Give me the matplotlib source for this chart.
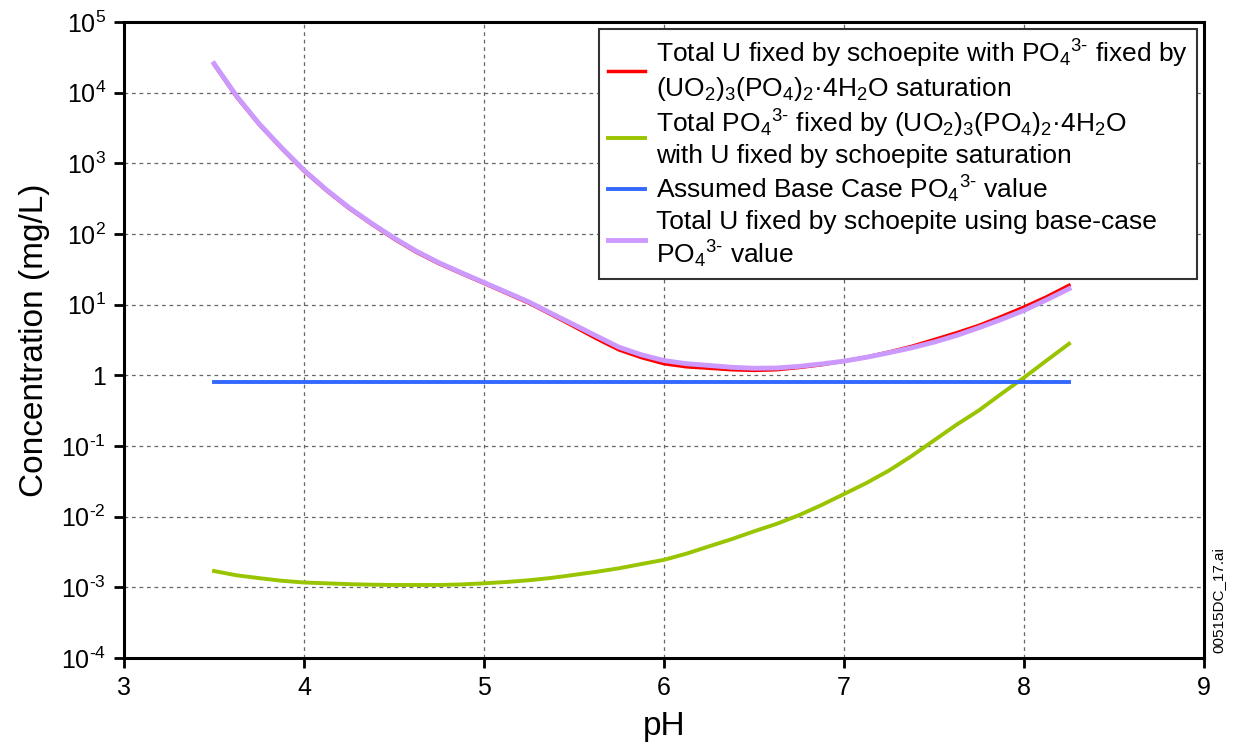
import math

import matplotlib
matplotlib.use("Agg")
import matplotlib.pyplot as plt
from matplotlib.ticker import FuncFormatter, FixedLocator

plt.rcParams['font.family'] = ['Liberation Sans', 'DejaVu Sans']
plt.rcParams['mathtext.fontset'] = 'custom'
plt.rcParams['mathtext.rm'] = 'Liberation Sans'
plt.rcParams['mathtext.it'] = 'Liberation Sans'
plt.rcParams['mathtext.default'] = 'regular'

# pH values
ph = [3.5, 3.625, 3.75, 3.875, 4.0, 4.125, 4.25, 4.375, 4.5, 4.625, 4.75,
      4.875, 5.0, 5.125, 5.25, 5.375, 5.5, 5.625, 5.75, 5.875, 6.0, 6.125,
      6.25, 6.375, 6.5, 6.625, 6.75, 6.875, 7.0, 7.125, 7.25, 7.375, 7.5,
      7.625, 7.75, 7.875, 8.0, 8.125, 8.25]

# Total U, schoepite with PO4 from (UO2)3(PO4)2.4H2O saturation
u_sat = [25100, 8700, 3550, 1620, 775, 410, 230, 138, 85, 55, 38,
         27.5, 20, 14.5, 10.5, 7.2, 4.9, 3.3, 2.29, 1.78, 1.46, 1.32,
         1.26, 1.2, 1.175, 1.2, 1.29, 1.41, 1.59, 1.82, 2.14, 2.57, 3.2,
         4.0, 5.1, 6.8, 9.25, 12.9, 18.8]
# Total PO4 fixed by (UO2)3(PO4)2.4H2O with U fixed by schoepite
po4_sat = [0.0017, 0.00148, 0.00135, 0.00124, 0.00117, 0.00114, 0.00111,
           0.00109, 0.00108, 0.00108, 0.00108, 0.0011, 0.00114, 0.00119,
           0.00126, 0.00136, 0.0015, 0.00166, 0.00186, 0.00214, 0.00245,
           0.003, 0.0038, 0.0048, 0.0062, 0.0079, 0.0105, 0.0146, 0.0209,
           0.030, 0.045, 0.072, 0.12, 0.20, 0.32, 0.55, 0.93, 1.62, 2.8]
# Assumed base-case PO4 value
po4_base = [0.81] * len(ph)
# Total U fixed by schoepite with base-case PO4
u_base = [25800, 9000, 3650, 1670, 800, 422, 237, 142, 88, 57, 39.2,
          28.3, 20.6, 15, 10.9, 7.5, 5.2, 3.6, 2.5, 1.95, 1.62, 1.46,
          1.38, 1.3, 1.26, 1.27, 1.34, 1.45, 1.59, 1.8, 2.09, 2.45, 2.95,
          3.67, 4.73, 6.2, 8.3, 11.7, 16.8]

po4 = r"PO$_4$$^{3\text{-}}$"
labels = [
    "Total U fixed by schoepite with " + po4 + " fixed by\n"
    "(UO$_2$)$_3$(PO$_4$)$_2$·4H$_2$O saturation",
    "Total " + po4 + " fixed by (UO$_2$)$_3$(PO$_4$)$_2$·4H$_2$O\n"
    "with U fixed by schoepite saturation",
    "Assumed Base Case " + po4 + " value",
    "Total U fixed by schoepite using base-case\n" + po4 + " value",
]

fig = plt.figure(figsize=(12.33, 7.49), dpi=100)
ax = fig.add_axes([0.1006, 0.1215, 0.8759, 0.8491])

ax.plot(ph, u_sat, color="#ff0000", lw=2.5, label=labels[0], zorder=3)
ax.plot(ph, po4_sat, color="#99c400", lw=2.8, label=labels[1], zorder=3)
ax.plot(ph, po4_base, color="#3368ff", lw=2.8, label=labels[2], zorder=3)
ax.plot(ph, u_base, color="#cc99ff", lw=3.5, label=labels[3], zorder=4)

ax.set_yscale("log")
ax.set_xlim(3, 9)
ax.set_ylim(1e-4, 1e5)
ax.xaxis.set_major_locator(FixedLocator([3, 4, 5, 6, 7, 8, 9]))
ax.yaxis.set_major_locator(FixedLocator([10.0 ** k for k in range(-4, 6)]))
ax.yaxis.set_minor_locator(FixedLocator([]))


def fmt(v, pos):
    e = int(round(math.log10(v)))
    if e == 0:
        return "1"
    return r"10$^{%s}$" % (str(e).replace("-", r"\text{-}"))


ax.yaxis.set_major_formatter(FuncFormatter(fmt))
ax.tick_params(axis="both", which="major", direction="out", length=7,
               width=2, labelsize=18, pad=6)
for s in ax.spines.values():
    s.set_linewidth(2.2)
    s.set_color("black")

ax.grid(True, which="major", ls=(0, (3, 3)), lw=0.9, color="#666666")

ax.set_xlabel("pH", fontsize=24, labelpad=8)
ax.set_ylabel("Concentration (mg/L)", fontsize=24, labelpad=8)

leg = ax.legend(loc="upper right", bbox_to_anchor=(0.9935, 0.989),
                fontsize=19, frameon=True, fancybox=False,
                handlelength=1.4, handletextpad=0.4, labelspacing=0.2,
                borderpad=0.35, borderaxespad=0.0)
leg.get_frame().set_edgecolor("#333333")
leg.get_frame().set_linewidth(1.5)
leg.get_frame().set_alpha(1)

fig.text(0.988, 0.199, "00515DC_17.ai", rotation=90, fontsize=11,
         ha="center", va="center")

fig.savefig("out.png", dpi=100)
